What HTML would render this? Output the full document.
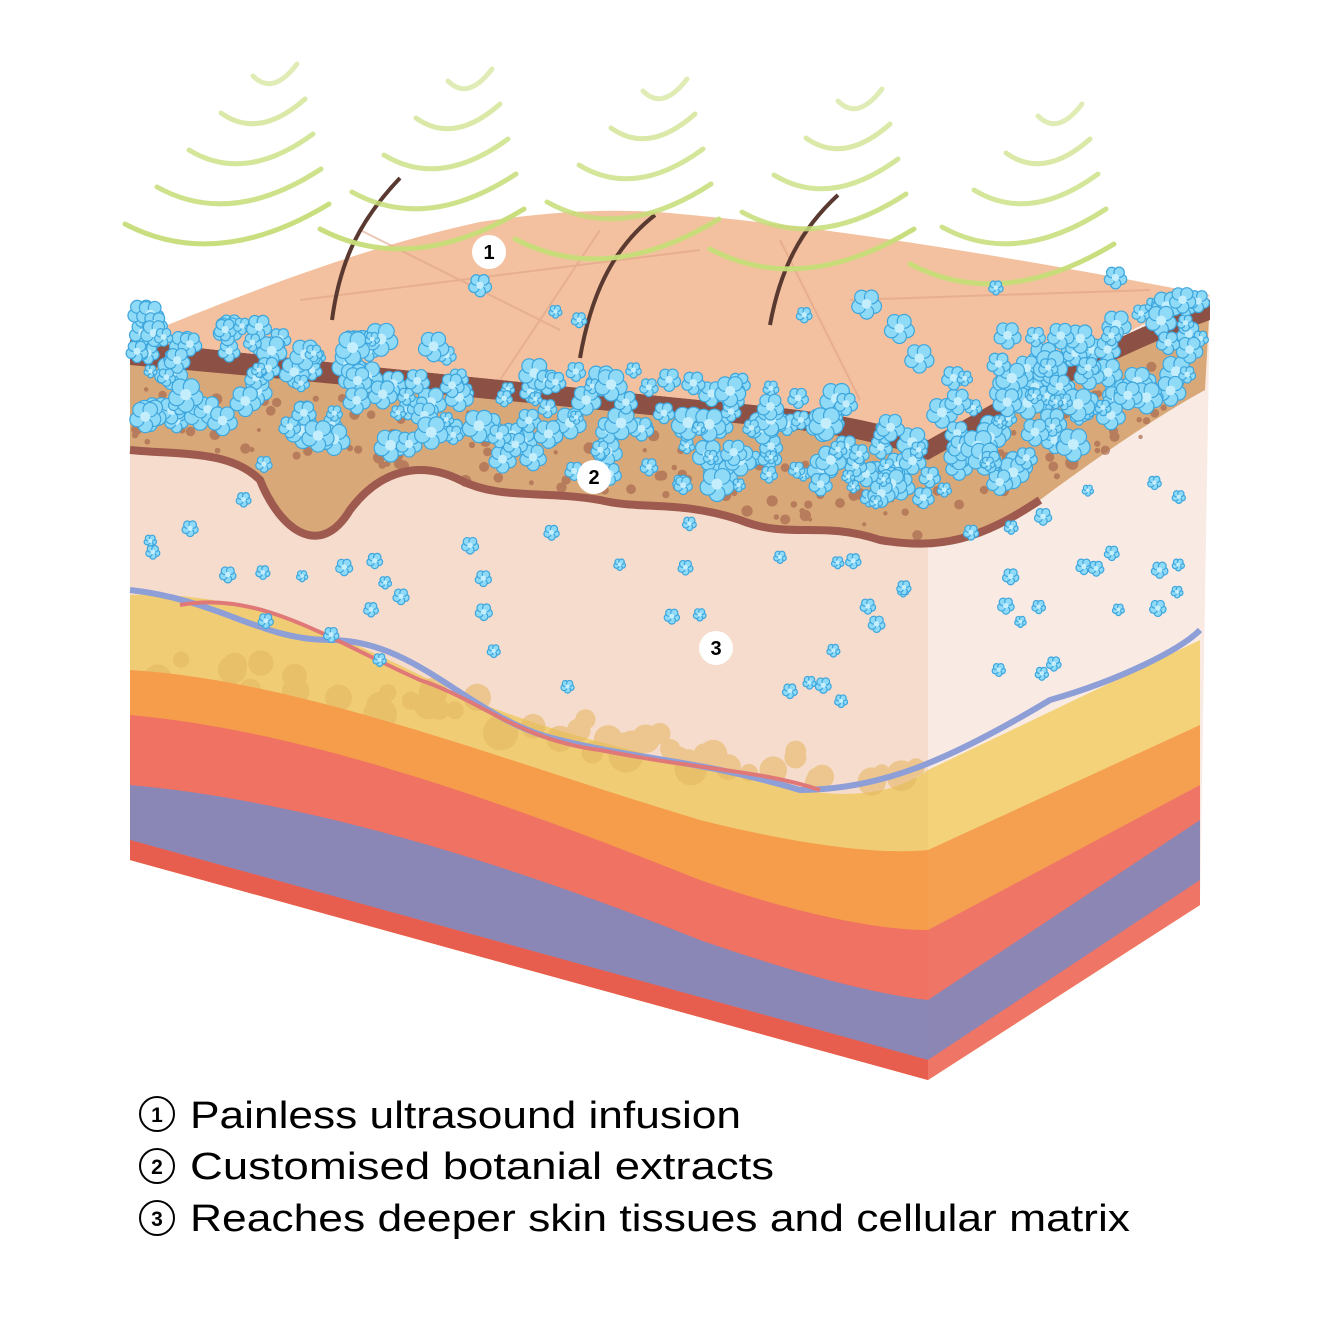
<!DOCTYPE html>
<html><head><meta charset="utf-8"><style>
html,body{margin:0;padding:0;background:#fff;width:1320px;height:1321px;overflow:hidden}
svg{display:block}
</style></head><body>
<svg id="s" width="1320" height="1321" viewBox="0 0 1320 1321" xmlns="http://www.w3.org/2000/svg">
<polygon points="928,420 1210,295 1200,905 928,1080" fill="#f9ebe4"/>
<polygon points="928,770 1200,640 1200,905 928,1080" fill="#f3d27a"/>
<polygon points="928,850 1200,725 1200,905 928,1080" fill="#f5a050"/>
<polygon points="928,930 1200,785 1200,905 928,1080" fill="#ef7566"/>
<polygon points="928,1000 1200,820 1200,880 928,1060" fill="#8c86b5"/>
<polygon points="130,340 928,440 928,1080 130,860" fill="#f6dccd"/>
<path d="M130,595 C250,590 350,640 450,690 C560,740 680,760 800,790 C860,800 900,790 928,770 L928,1080 130,860Z" fill="#f0cd74"/>
<g id="fat" fill="#e6b965" opacity=".6"></g>
<path d="M130,670 C300,680 500,760 700,820 C800,845 880,855 928,850 L928,1080 130,860Z" fill="#f69d4c"/>
<path d="M130,715 C300,730 500,800 700,880 C800,915 880,930 928,930 L928,1080 130,860Z" fill="#ef7262"/>
<path d="M130,785 C300,800 500,860 700,940 C800,975 880,995 928,1000 L928,1060 130,840Z" fill="#8a86b6"/>
<path d="M130,840 L928,1060 928,1080 130,860Z" fill="#e85e4e"/>
<path d="M130,590 C220,600 260,640 330,640 C420,640 470,720 560,740 C640,760 700,760 800,790 C880,790 950,760 1050,700 C1120,680 1180,650 1200,630" fill="none" stroke="#8e9ed6" stroke-width="6"/>
<path d="M180,605 C260,590 330,640 420,680 C480,700 520,740 600,750 C700,770 760,770 820,790" fill="none" stroke="#e07878" stroke-width="4"/>
<path d="M130,340 C300,360 500,380 700,400 C820,410 880,420 928,440 C1000,400 1100,340 1210,300 L1205,390 C1150,420 1080,470 1040,500 C980,540 940,550 880,540 C820,520 790,540 740,520 C680,500 640,510 600,500 C540,490 500,500 460,480 C420,460 380,470 350,510 C320,560 280,530 260,480 C230,450 180,455 130,450Z" fill="#d9a878"/>
<g id="dots" fill="#a86a50" opacity=".7"></g>
<path d="M130,340 C300,360 500,380 700,400 C820,410 880,420 928,440 C1000,400 1100,340 1210,300 L1210,320 C1100,360 1000,420 928,460 C880,440 820,430 700,420 C500,400 300,380 130,365Z" fill="#8c5045"/>
<path d="M130,450 C180,455 230,450 260,480 C280,530 320,560 350,510 C380,470 420,460 460,480 C500,500 540,490 600,500 C640,510 680,500 740,520 C790,540 820,520 880,540 C940,550 980,540 1040,500" fill="none" stroke="#9e5a4e" stroke-width="8"/>
<path d="M130,340 C230,300 350,250 480,222 C560,210 620,208 680,214 C800,225 950,245 1210,295 C1100,340 1000,400 928,440 C880,420 820,410 700,400 C500,380 300,360 130,340Z" fill="#f3c19f"/>
<path d="M360,230 L560,330 M600,230 L500,380 M780,240 L860,400 M300,300 L700,250 M850,300 L1150,290" stroke="#dfa485" stroke-width="2" fill="none" opacity=".6"/>
<path d="M332,320 C340,260 360,220 400,178" stroke="#5a3a30" stroke-width="4" fill="none"/>
<path d="M580,358 C590,300 610,250 655,215" stroke="#5a3a30" stroke-width="4" fill="none"/>
<path d="M770,325 C780,270 800,230 838,195" stroke="#5a3a30" stroke-width="4" fill="none"/>
<g id="arcs" fill="none" stroke="#c6dd78" stroke-width="5" stroke-linecap="round"></g>
<g id="fl"></g>
<g font-family="Liberation Sans, sans-serif" font-weight="bold" font-size="20" text-anchor="middle">
<circle cx="489" cy="252" r="17" fill="#fff"/><text x="489" y="259">1</text>
<circle cx="594" cy="477" r="17" fill="#fff"/><text x="594" y="484">2</text>
<circle cx="716" cy="648" r="17" fill="#fff"/><text x="716" y="655">3</text>
</g>
<g font-family="Liberation Sans, sans-serif" font-size="38" fill="#000">
<circle cx="157" cy="1114" r="17" fill="none" stroke="#000" stroke-width="2"/><text x="157" y="1122" font-size="21" font-weight="bold" text-anchor="middle">1</text>
<circle cx="157" cy="1166" r="17" fill="none" stroke="#000" stroke-width="2"/><text x="157" y="1174" font-size="21" font-weight="bold" text-anchor="middle">2</text>
<circle cx="157" cy="1218" r="17" fill="none" stroke="#000" stroke-width="2"/><text x="157" y="1226" font-size="21" font-weight="bold" text-anchor="middle">3</text>
<text x="190" y="1128" textLength="551" lengthAdjust="spacingAndGlyphs">Painless ultrasound infusion</text>
<text x="190" y="1179" textLength="584" lengthAdjust="spacingAndGlyphs">Customised botanial extracts</text>
<text x="190" y="1231" textLength="940" lengthAdjust="spacingAndGlyphs">Reaches deeper skin tissues and cellular matrix</text>
</g>
</svg>
<script>
var NS="http://www.w3.org/2000/svg";
var arcs=document.getElementById("arcs");
[[275,80],[470,85],[665,95],[860,105],[1060,120]].forEach(function(c){
 for(var i=0;i<5;i++){var w=22+i*20,y=c[1]+i*40,x=c[0]-i*12;
  var p=document.createElementNS(NS,"path");
  p.setAttribute("d","M"+(x-w)+","+(y-4-i*3)+" Q"+(x-w*0.1)+","+(y+16+i*4)+" "+(x+w)+","+(y-16-i*5));
  p.setAttribute("opacity",(0.55+i*0.1));arcs.appendChild(p);}
});
var seed=7;function r(){seed=(seed*16807)%2147483647;return seed/2147483647;}
var fl=document.getElementById("fl");
function circ(par,x,y,rad,f){var c=document.createElementNS(NS,"circle");c.setAttribute("cx",x);c.setAttribute("cy",y);c.setAttribute("r",rad);if(f)c.setAttribute("fill",f);par.appendChild(c);return c;}
function flower(x,y,s){var g=document.createElementNS(NS,"g");
 for(var k=0;k<5;k++){var a=k*1.2566+0.3,c=circ(g,x+Math.cos(a)*s*0.6,y+Math.sin(a)*s*0.6,s*0.5,"#8fdaf7");
  c.setAttribute("stroke","#3da6dd");c.setAttribute("stroke-width",1.2);}
 circ(g,x,y,s*0.35,"#c5eefc");fl.appendChild(g);}
function bandY(x){ if(x<928) return 340+(x-130)*0.125; return 440-(x-928)*0.47;}
var dots=document.getElementById("dots");
for(var i=0;i<160;i++){var x=135+r()*1060;circ(dots,x,bandY(x)+30+r()*70,2+r()*4);}
var fat=document.getElementById("fat");
for(var i=0;i<50;i++){var x=140+r()*780;var y=640+(x-130)*0.16+r()*40;circ(fat,x,y,8+r()*10);}
for(var i=0;i<300;i++){var x=135+r()*1070;var y=bandY(x)+(r()-0.3)*110;flower(x,y,6+r()*10);}
for(var i=0;i<60;i++){var x=150+r()*1050;var y=bandY(x)+100+r()*200;flower(x,y,5+r()*3);}
for(var i=0;i<15;i++){var x=150+r()*1000;var y=bandY(x)-40-r()*90;flower(x,y,6+r()*8);}
</script>
</body></html>
